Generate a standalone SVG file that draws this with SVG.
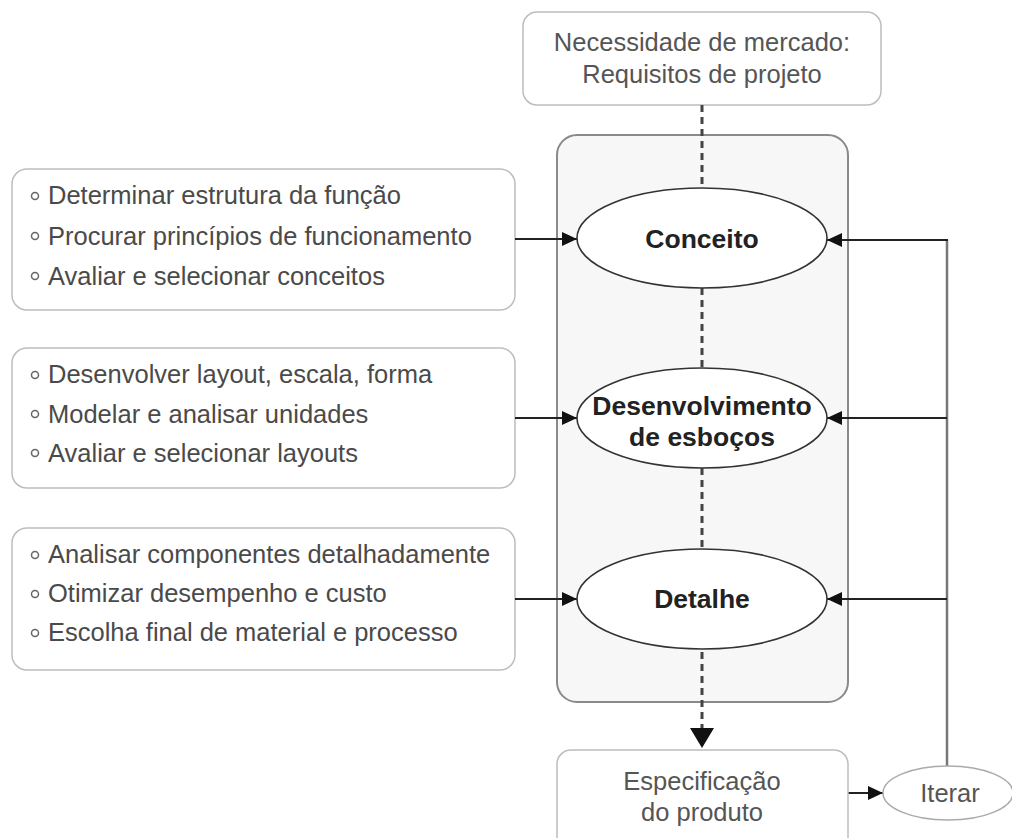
<svg xmlns="http://www.w3.org/2000/svg" width="1012" height="838" viewBox="0 0 1012 838">
<defs>
<marker id="ah" viewBox="0 0 15 14" refX="15" refY="7" markerWidth="15" markerHeight="14" markerUnits="userSpaceOnUse" orient="auto"><path d="M0,0 L15,7 L0,14 Z" fill="#111"/></marker>
</defs>
<style>
.box{fill:#fff;stroke:#bdbdbd;stroke-width:1.5}
.cont{fill:#f7f7f7;stroke:#8a8a8a;stroke-width:2}
.ell{fill:#fff;stroke:#333;stroke-width:1.6}
.ell2{fill:#fff;stroke:#aaa;stroke-width:1.5}
.t{font-family:"Liberation Sans",Arial,sans-serif;font-size:25.5px;fill:#4a4a4a}
.tc{font-family:"Liberation Sans",Arial,sans-serif;font-size:25.5px;fill:#555;text-anchor:middle}
.b{font-family:"Liberation Sans",Arial,sans-serif;font-size:26.5px;font-weight:bold;fill:#222;text-anchor:middle}
.bul{fill:none;stroke:#666;stroke-width:1.5}
.arr{stroke:#222;stroke-width:2;fill:none}
.vline{stroke:#777;stroke-width:2.5;fill:none}
.dash{stroke:#444;stroke-width:3;stroke-dasharray:7 5;fill:none}
</style>
<g id="container"><rect class="cont" x="557" y="135" width="291" height="567" rx="20"/></g>
<g id="top-node"><rect class="box" x="523" y="12" width="358" height="93" rx="14"/>
<text class="tc" x="702" y="51">Necessidade de mercado:</text>
<text class="tc" x="702" y="83">Requisitos de projeto</text></g>
<g id="box1"><rect class="box" x="12" y="169" width="503" height="141" rx="15"/>
<circle class="bul" cx="35" cy="196" r="3.5"/><text class="t" x="48" y="204">Determinar estrutura da função</text>
<circle class="bul" cx="35" cy="236" r="3.5"/><text class="t" x="48" y="245">Procurar princípios de funcionamento</text>
<circle class="bul" cx="35" cy="276" r="3.5"/><text class="t" x="48" y="285">Avaliar e selecionar conceitos</text></g>
<g id="box2"><rect class="box" x="12" y="348" width="503" height="140" rx="15"/>
<circle class="bul" cx="35" cy="375" r="3.5"/><text class="t" x="48" y="383">Desenvolver layout, escala, forma</text>
<circle class="bul" cx="35" cy="414" r="3.5"/><text class="t" x="48" y="423">Modelar e analisar unidades</text>
<circle class="bul" cx="35" cy="453" r="3.5"/><text class="t" x="48" y="462">Avaliar e selecionar layouts</text></g>
<g id="box3"><rect class="box" x="12" y="528" width="503" height="142" rx="15"/>
<circle class="bul" cx="35" cy="555" r="3.5"/><text class="t" x="48" y="563">Analisar componentes detalhadamente</text>
<circle class="bul" cx="35" cy="594" r="3.5"/><text class="t" x="48" y="602">Otimizar desempenho e custo</text>
<circle class="bul" cx="35" cy="633" r="3.5"/><text class="t" x="48" y="641">Escolha final de material e processo</text></g>
<g id="connectors">
<line class="dash" x1="702" y1="105" x2="702" y2="189"/>
<line class="dash" x1="702" y1="288" x2="702" y2="368"/>
<line class="dash" x1="702" y1="468" x2="702" y2="549"/>
<line class="dash" x1="702" y1="652" x2="702" y2="730"/>
<path d="M690,728 L714,728 L702,748 Z" fill="#111"/>
<line class="arr" x1="515" y1="239" x2="577" y2="239" marker-end="url(#ah)"/>
<line class="arr" x1="515" y1="418" x2="577" y2="418" marker-end="url(#ah)"/>
<line class="arr" x1="515" y1="599" x2="577" y2="599" marker-end="url(#ah)"/>
<path class="vline" d="M947,767 L947,240"/>
<line class="arr" x1="948" y1="240" x2="827" y2="240" marker-end="url(#ah)"/>
<line class="arr" x1="947" y1="418" x2="827" y2="418" marker-end="url(#ah)"/>
<line class="arr" x1="947" y1="599" x2="827" y2="599" marker-end="url(#ah)"/>
<line class="arr" x1="848" y1="793" x2="883" y2="793" marker-end="url(#ah)"/>
</g>
<g id="conceito"><ellipse class="ell" cx="702" cy="238" rx="125" ry="50"/><text class="b" x="702" y="248">Conceito</text></g>
<g id="desenvolvimento"><ellipse class="ell" cx="702" cy="418" rx="125" ry="50"/><text class="b" x="702" y="415">Desenvolvimento</text><text class="b" x="702" y="446">de esboços</text></g>
<g id="detalhe"><ellipse class="ell" cx="702" cy="599" rx="125" ry="50"/><text class="b" x="702" y="608">Detalhe</text></g>
<g id="especificacao"><rect class="box" x="557" y="750" width="291" height="110" rx="14"/>
<text class="tc" x="702" y="790">Especificação</text><text class="tc" x="702" y="821">do produto</text></g>
<g id="iterar"><ellipse class="ell2" cx="948" cy="793" rx="65" ry="27"/><text class="tc" x="950" y="802">Iterar</text></g>
</svg>
